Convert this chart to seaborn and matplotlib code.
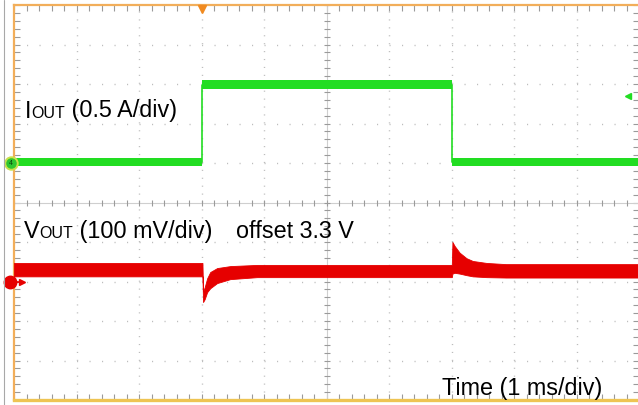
import numpy as np
import pandas as pd
import matplotlib
matplotlib.use("Agg")
import matplotlib.pyplot as plt
import seaborn as sns
from matplotlib.lines import Line2D

# ---------------- data (screen divisions; x: 1 ms/div) ----------------
# I_OUT trace (0.5 A/div): noise-band envelopes and centre
i_time = [0.0, 3.015, 3.015, 7.01, 7.01, 10.0]
i_center = [6.02, 6.02, 7.98, 7.98, 6.02, 6.02]
i_upper = [6.13, 6.13, 8.10, 8.10, 6.13, 6.13]
i_lower = [5.92, 5.92, 7.87, 7.87, 5.92, 5.92]

# V_OUT trace (100 mV/div, offset 3.3 V): noise-band envelopes
v_time = [0.0, 3.015, 3.025, 3.05, 3.09, 3.14, 3.25, 3.46, 3.89,
          7.005, 7.015, 7.05, 7.13, 7.24, 7.34, 7.56, 7.87, 10.0]
v_upper = [3.47, 3.47, 2.75, 2.85, 3.08, 3.24, 3.34, 3.39, 3.42,
           3.42, 4.00, 3.90, 3.73, 3.59, 3.52, 3.47, 3.44, 3.44]
v_lower = [3.13, 3.13, 2.48, 2.55, 2.73, 2.83, 2.96, 3.06, 3.11,
           3.11, 3.20, 3.22, 3.20, 3.16, 3.13, 3.11, 3.10, 3.10]

grid_divs = [1, 2, 3, 4, 6, 7, 8, 9]
ch_levels = {"I": 6.0, "V": 3.0}
trigger_time = 3.0
trigger_level = 7.69

# ---------------- styling ----------------
sns.set_theme(style="white")
plt.rcParams["font.family"] = ["Liberation Sans", "DejaVu Sans"]
plt.rcParams["lines.scale_dashes"] = False

W, H = 638, 405
fig = plt.figure(figsize=(W / 100, H / 100), dpi=100)
ax = fig.add_axes([14 / W, 5 / H, 625 / W, 395 / H])
ax.set_xlim(0, 10)
ax.set_ylim(0, 10)

GREEN = "#22dd22"
RED = "#e60000"
GRID = "#bdbdbd"
TICK = "#9a9a9a"

# dotted graticule
for d in grid_divs:
    ax.axhline(d, color=GRID, lw=1.0, dashes=(0.8, 8.2), zorder=1)
    ax.axvline(d, color=GRID, lw=1.0, dashes=(0.8, 4.9), zorder=1)
# centre cross with ticks
ax.axhline(5, color="#cfcfcf", lw=0.8, zorder=1)
ax.axvline(5, color="#cfcfcf", lw=0.8, zorder=1)
tk = np.arange(0, 10.001, 0.2)
ax.plot(tk, np.full_like(tk, 5.0), ls="none", marker="|", ms=4, mew=0.8, color=TICK, zorder=1)
ax.plot(np.full_like(tk, 5.0), tk, ls="none", marker="_", ms=4, mew=0.8, color=TICK, zorder=1)

# border ticks
ax.set_xticks(tk)
ax.set_yticks(tk)
ax.tick_params(direction="in", length=4, width=0.8, color=TICK,
               bottom=True, top=True, left=True, right=True,
               labelbottom=False, labelleft=False)

# spines
for s in ["left", "top"]:
    ax.spines[s].set_color("#f2ae5a")
    ax.spines[s].set_linewidth(1.6)
ax.spines["bottom"].set_color("#eec453")
ax.spines["bottom"].set_linewidth(2.4)
ax.spines["right"].set_visible(False)

# traces
ax.fill_between(i_time, i_lower, i_upper, color=GREEN, lw=0, zorder=3)
df_i = pd.DataFrame({"t": i_time, "v": i_center})
sns.lineplot(data=df_i, x="t", y="v", estimator=None, sort=False,
             color=GREEN, lw=1.2, ax=ax, zorder=3)
ax.fill_between(v_time, v_lower, v_upper, color=RED, lw=0.6, edgecolor=RED, zorder=3)
ax.set_xlabel("")
ax.set_ylabel("")

# channel markers
ax.plot([-0.05], [ch_levels["I"]], marker="o", ms=9, color="#2fc62f",
        mec="#c8e04a", mew=1.4, clip_on=False, zorder=5)
ax.text(-0.05, ch_levels["I"] - 0.02, "4", fontsize=5, color="#0a400a",
        ha="center", va="center", clip_on=False, zorder=6)
ax.plot([-0.03, 0.11], [ch_levels["V"], ch_levels["V"]], color=RED, lw=1.2,
        clip_on=False, zorder=5)
ax.plot([0.12], [ch_levels["V"]], marker=">", ms=4, color=RED,
        clip_on=False, zorder=5)
ax.plot([-0.06], [ch_levels["V"]], marker="o", ms=9, color=RED,
        mec=RED, clip_on=False, zorder=5)
ax.plot([trigger_time], [9.9], marker="v", ms=6, color="#f08a20",
        clip_on=False, zorder=5)
ax.plot([9.82], [trigger_level], marker="<", ms=5, color=GREEN,
        clip_on=False, zorder=5)

# left screenshot edge line
fig.add_artist(Line2D([4 / W, 4 / W], [0, 1], color="#a8a8a8", lw=0.8))

# ---------------- labels with small-cap subscripts ----------------
BIG = 16.8
SMALL = 11.5
renderer = fig.canvas.get_renderer()


def put(pieces, x_px, y_px):
    x = x_px
    for txt, size in pieces:
        t = fig.text(x / W, 1 - y_px / H, txt, fontsize=size, color="black",
                     ha="left", va="baseline")
        bb = t.get_window_extent(renderer=renderer)
        x += bb.width


put([("I", BIG), ("OUT", SMALL), (" (0.5 A/div)", BIG)], 24.5, 117.5)
put([("V", BIG), ("OUT", SMALL), (" (100 mV/div)", BIG)], 23.5, 238)
put([("offset 3.3 V", BIG)], 235.5, 238)
put([("Time (1 ms/div)", BIG)], 441.5, 395)

fig.savefig("out.png", dpi=100)
